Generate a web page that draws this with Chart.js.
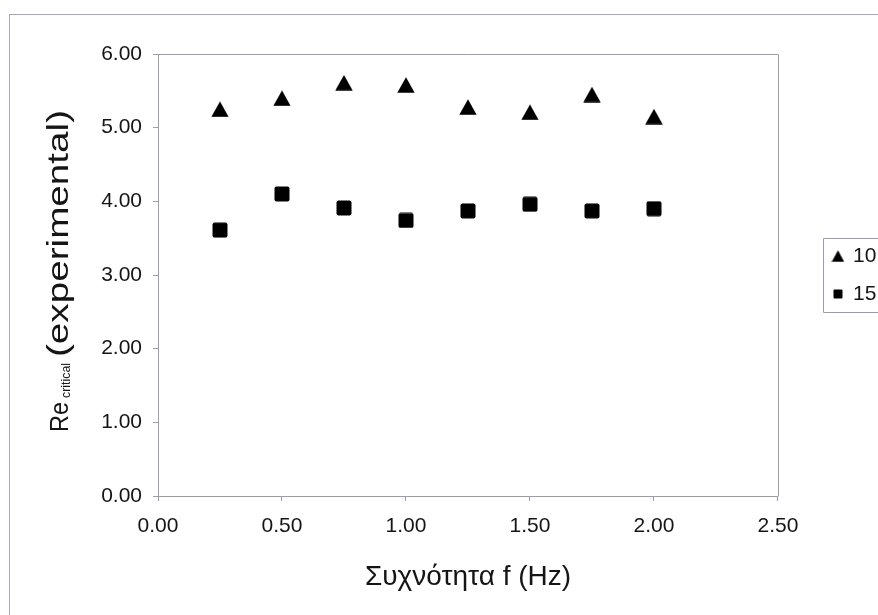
<!DOCTYPE html>
<html><head><meta charset="utf-8">
<script src="https://cdn.jsdelivr.net/npm/chart.js@4"></script>
<style>html,body{margin:0;padding:0;background:#fff;overflow:hidden}#wrap{width:900px;height:615px;position:relative}canvas{display:block}</style>
</head><body><div id="wrap"><canvas id="c" width="900" height="615" style="width:900px;height:615px"></canvas></div>
<script>
// ---- data ----
const frequencies = [0.25, 0.50, 0.75, 1.00, 1.25, 1.50, 1.75, 2.00];
const series10 = [5.25, 5.40, 5.61, 5.58, 5.28, 5.21, 5.45, 5.15];
const series15 = [3.61, 4.10, 3.91, 3.74, 3.87, 3.96, 3.87, 3.90];
const seriesNames = ['10', '15'];
const xTickLabels = ['0.00', '0.50', '1.00', '1.50', '2.00', '2.50'];
const yTickLabels = ['0.00', '1.00', '2.00', '3.00', '4.00', '5.00', '6.00'];
const xTitle = 'Συχνότητα f (Hz)';
const yTitleMain = 'Re';
const yTitleSub = 'critical';
const yTitleRest = '(experimental)';

const FONT = "'Liberation Sans', Arial, sans-serif";
const TEXT = '#151515';
const LINE = '#9c9caa';

function triImg(w, h) {
  const c = document.createElement('canvas'); c.width = w; c.height = h;
  const g = c.getContext('2d'); g.fillStyle = '#000';
  g.beginPath(); g.moveTo(w / 2, 0.3); g.lineTo(w - 0.3, h - 0.3); g.lineTo(0.3, h - 0.3); g.closePath(); g.fill();
  return c;
}
function sqImg(s, r) {
  const c = document.createElement('canvas'); c.width = s; c.height = s;
  const g = c.getContext('2d'); g.fillStyle = '#000';
  g.beginPath(); g.roundRect(0.5, 0.5, s - 1, s - 1, r); g.fill();
  return c;
}
const triBig = triImg(18, 16), sqBig = sqImg(16, 2);
const triSmall = triImg(13, 12), sqSmall = sqImg(10, 1);

const pts = ys => frequencies.map((f, i) => ({x: f, y: ys[i]}));

const framePlugin = {
  id: 'frames',
  beforeDraw(chart) {
    const ctx = chart.ctx;
    ctx.save();
    ctx.fillStyle = '#fff'; ctx.fillRect(0, 0, chart.width, chart.height);
    ctx.strokeStyle = '#a8a8b8'; ctx.lineWidth = 1;
    ctx.strokeRect(9.5, 14.5, 3000, 3000);
    ctx.restore();
  },
  beforeDatasetsDraw(chart) {
    const {ctx, chartArea: a} = chart;
    ctx.save();
    ctx.strokeStyle = LINE; ctx.lineWidth = 1;
    ctx.beginPath();
    ctx.moveTo(Math.round(a.left) + 0.5, Math.round(a.top) + 0.5);
    ctx.lineTo(Math.round(a.right) + 0.5, Math.round(a.top) + 0.5);
    ctx.lineTo(Math.round(a.right) + 0.5, Math.round(a.bottom) + 0.5);
    ctx.stroke();
    ctx.restore();
  },
  afterDraw(chart) {
    const ctx = chart.ctx;
    // legend frame
    const hb = chart.legend.legendHitBoxes;
    if (hb && hb.length) {
      const top = Math.round(hb[0].top - 7.5) + 0.5;
      const bot = Math.round(hb[hb.length - 1].top + hb[hb.length - 1].height + 7.5) + 0.5;
      const left = 823.5;
      ctx.save(); ctx.strokeStyle = LINE; ctx.lineWidth = 1;
      ctx.beginPath();
      ctx.moveTo(chart.width + 5, top); ctx.lineTo(left, top); ctx.lineTo(left, bot); ctx.lineTo(chart.width + 5, bot);
      ctx.stroke(); ctx.restore();
    }
    // y axis title with subscript
    const parts = [
      {t: yTitleMain, size: 26, from: 0, to: 30, dy: 0},
      {t: yTitleSub, size: 12, from: 34, to: 69, dy: 2},
      {t: yTitleRest, size: 29, from: 75, to: 322, dy: 0}
    ];
    ctx.save();
    ctx.translate(68, 432);
    ctx.rotate(-Math.PI / 2);
    ctx.fillStyle = TEXT;
    ctx.textBaseline = 'alphabetic';
    ctx.textAlign = 'left';
    parts.forEach(p => {
      ctx.font = p.size + 'px ' + FONT;
      const w = ctx.measureText(p.t).width;
      ctx.save();
      ctx.translate(p.from, p.dy);
      ctx.scale((p.to - p.from) / w, 1);
      ctx.fillText(p.t, 0, 0);
      ctx.restore();
    });
    ctx.restore();
  }
};

new Chart(document.getElementById('c'), {
  type: 'scatter',
  data: {
    datasets: [
      {label: seriesNames[0], data: pts(series10), pointStyle: triBig, backgroundColor: '#000', borderColor: '#000', showLine: false},
      {label: seriesNames[1], data: pts(series15), pointStyle: sqBig, backgroundColor: '#000', borderColor: '#000', showLine: false}
    ]
  },
  options: {
    responsive: false,
    animation: false,
    devicePixelRatio: 1,
    layout: {padding: {left: 0, top: 54, right: 13.65, bottom: 0}},
    plugins: {
      tooltip: {enabled: false},
      legend: {
        position: 'right',
        fullSize: false,
        align: 'center',
        labels: {
          color: TEXT,
          font: {family: FONT, size: 21},
          usePointStyle: true,
          boxWidth: 9,
          boxHeight: 10,
          padding: 17,
          generateLabels(chart) {
            const items = Chart.defaults.plugins.legend.labels.generateLabels(chart);
            items.forEach((it, i) => { it.pointStyle = i === 0 ? triSmall : sqSmall; });
            return items;
          }
        }
      }
    },
    scales: {
      x: {
        type: 'linear', position: 'bottom', min: 0, max: 2.5,
        afterFit(s) { s.height = 119; },
        ticks: {stepSize: 0.5, color: TEXT, font: {family: FONT, size: 21}, padding: 13,
          callback: v => xTickLabels[Math.round(v / 0.5)]},
        grid: {drawOnChartArea: false, drawTicks: true, tickLength: 5, color: LINE},
        border: {display: true, color: LINE},
        title: {display: true, text: xTitle, color: TEXT, font: {family: FONT, size: 28}, padding: {top: 0, bottom: 21}}
      },
      y: {
        type: 'linear', position: 'left', min: 0, max: 6,
        afterFit(s) { s.width = 158; },
        ticks: {stepSize: 1, color: TEXT, font: {family: FONT, size: 21}, padding: 11,
          callback: v => yTickLabels[Math.round(v)]},
        grid: {drawOnChartArea: false, drawTicks: true, tickLength: 5, color: LINE},
        border: {display: true, color: LINE}
      },
      gap: {
        type: 'linear', position: 'right', display: true,
        afterFit(s) { s.width = 38.5; },
        ticks: {display: false}, grid: {display: false}, border: {display: false}
      }
    }
  },
  plugins: [framePlugin]
});
</script>
</body></html>
